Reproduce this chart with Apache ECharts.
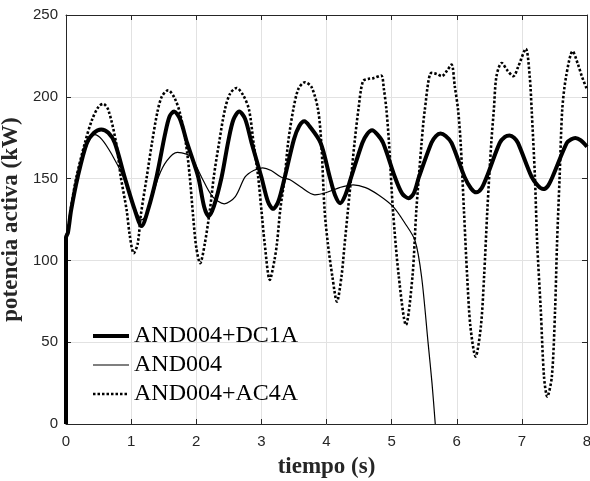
<!DOCTYPE html>
<html>
<head>
<meta charset="utf-8">
<script src="https://cdn.jsdelivr.net/npm/echarts@6/dist/echarts.min.js"></script>
<style>
html,body{margin:0;padding:0;background:#fff;}
#chart{width:590px;height:481px;}
</style>
</head>
<body>
<div id="chart"></div>
<script>
var seriesNames = ['AND004+DC1A', 'AND004', 'AND004+AC4A'];
var xTicks = [0,1,2,3,4,5,6,7,8];
var yTicks = [0,50,100,150,200,250];

var dc1aT = [0,0,0.03,0.08,0.18,0.32,0.43,0.54,0.65,0.75,0.90,1.055,1.16,1.26,1.39,1.52,1.59,1.66,1.75,1.86,2.03,2.12,2.19,2.27,2.39,2.49,2.57,2.66,2.75,2.85,3.0,3.10,3.18,3.26,3.36,3.50,3.58,3.66,3.74,3.91,4.05,4.13,4.21,4.29,4.38,4.55,4.62,4.70,4.78,4.87,5.05,5.16,5.26,5.34,5.42,5.61,5.68,5.75,5.83,5.92,6.12,6.22,6.30,6.38,6.46,6.66,6.74,6.81,6.88,6.94,7.15,7.25,7.33,7.40,7.47,7.69,7.76,7.82,7.90,8.0];
var dc1aV = [0,114,117,131,151,171.8,178,180,178,171.8,151,131,121,131,151,177,188,191,186.5,171.8,151,133,127,133,151,172.5,186,191,186.5,171.8,151,136,131.5,136,151,174,182,185,182,171.8,151,140,135,140,151,171.8,177,179.5,177,171.8,151,141,138,141,151,171.8,176,177.5,176,171.8,151,144,141.6,144,151,171.8,175.5,176.3,175,171.8,151,145.5,143.6,145.5,151,171.8,174,174.8,173.5,169.5];

var andT = [0,0,0.03,0.08,0.18,0.32,0.44,0.55,0.70,0.88,1.0,1.10,1.16,1.24,1.42,1.55,1.71,1.85,1.93,2.08,2.25,2.43,2.60,2.75,2.88,3.02,3.15,3.30,3.44,3.60,3.82,4.0,4.2,4.41,4.6,4.8,5.02,5.2,5.36,5.46,5.56,5.62,5.67];
var andV = [0,114,117,131,151,170,176.9,174,165,151,138,128,124.8,128,151,161,166,165,163,151,139,134.6,139,151,155,156.6,155,151,149.3,145,140.1,141.5,144.5,146.2,144.5,140,133,123,112,90,49.6,25,0];

var ac4aT = [0,0,0.03,0.08,0.16,0.29,0.40,0.50,0.57,0.65,0.77,0.84,0.93,0.98,1.04,1.10,1.15,1.24,1.32,1.40,1.47,1.57,1.67,1.75,1.84,1.90,1.95,2.00,2.06,2.13,2.21,2.27,2.35,2.44,2.52,2.62,2.72,2.81,2.88,2.95,3.0,3.05,3.13,3.20,3.24,3.29,3.36,3.41,3.49,3.57,3.67,3.77,3.87,3.92,3.97,4.02,4.09,4.16,4.23,4.28,4.33,4.38,4.43,4.49,4.56,4.65,4.72,4.84,4.88,4.92,4.96,5.02,5.11,5.22,5.32,5.38,5.46,5.51,5.61,5.69,5.77,5.85,5.92,5.97,6.02,6.06,6.11,6.16,6.21,6.29,6.37,6.42,6.47,6.53,6.57,6.61,6.69,6.78,6.87,6.94,7.06,7.12,7.15,7.20,7.235,7.29,7.34,7.39,7.46,7.51,7.54,7.58,7.62,7.68,7.78,7.86,7.92,8.0];
var ac4aV = [0,114,118,133,151,171.8,186,194,195.7,192,171.8,151.3,131,115,104.4,110,128,151,171.8,190,200,204,199,190,171.8,151.3,128,108,98.3,110,131,151.3,171.8,192.2,202,205.4,201,192.2,171.8,151.3,131,110.6,88.1,100,110.6,131,151.3,171.8,192.2,205,208.9,206,192.2,171.8,131,110.6,90.2,74.8,90.2,110.6,131,151.3,171.8,192.2,209.5,211,211.4,213,205,192.2,171.8,131,90.2,60.6,90.2,131,171.8,192.2,214.6,214,212.6,216,219.7,206.4,192.2,171.8,131,90.2,59.5,41.2,59.5,90.2,131,171.8,192.2,212.6,220.7,216,212.6,218,229.3,212.6,192.2,151.3,110.6,69.8,28.9,16.7,28.9,69.8,110.6,151.3,192.2,212.6,227.8,220,212.6,204.4];

function zip(t, v){ return t.map(function(x,i){ return [x, v[i]]; }); }

var axisColor = '#262626';
var gridColor = '#e2e2e2';
var tickFont = {fontFamily:'Liberation Sans, Arial, sans-serif', fontSize:15, color:axisColor};
var titleFont = {fontFamily:'Liberation Serif, serif', fontWeight:'bold', fontSize:23, color:axisColor};

var chart = echarts.init(document.getElementById('chart'), null, {renderer:'canvas'});
chart.setOption({
  backgroundColor:'#ffffff',
  animation:false,
  grid:{left:66, right:3, top:15, bottom:57, containLabel:false, outerBoundsMode:'none'},
  legend:{
    orient:'vertical', left:86, top:319,
    itemWidth:36, itemHeight:14, itemGap:5,
    itemStyle:{opacity:0},
    lineStyle:{width:'inherit', type:'inherit'},
    textStyle:{fontFamily:'Liberation Serif, serif', fontSize:24, color:'#000', lineHeight:24},
    data:seriesNames
  },
  xAxis:[{
    type:'value', min:xTicks[0], max:xTicks[xTicks.length-1], interval:1, position:'bottom',
    axisLine:{show:true, onZero:false, lineStyle:{color:axisColor, width:1}},
    axisTick:{show:true, inside:true, length:5, lineStyle:{color:axisColor}},
    axisLabel:Object.assign({margin:10}, tickFont),
    splitLine:{show:true, lineStyle:{color:gridColor, width:1}},
    name:'tiempo (s)', nameLocation:'middle', nameGap:32, nameTextStyle:titleFont
  },{
    type:'value', min:xTicks[0], max:xTicks[xTicks.length-1], interval:1, position:'top',
    axisLine:{show:true, onZero:false, lineStyle:{color:axisColor, width:1}},
    axisTick:{show:true, inside:true, length:5, lineStyle:{color:axisColor}},
    axisLabel:{show:false}, splitLine:{show:false}
  }],
  yAxis:[{
    type:'value', min:yTicks[0], max:yTicks[yTicks.length-1], interval:50, position:'left',
    axisLine:{show:true, onZero:false, lineStyle:{color:axisColor, width:1}},
    axisTick:{show:true, inside:true, length:5, lineStyle:{color:axisColor}},
    axisLabel:Object.assign({margin:8}, tickFont),
    splitLine:{show:true, lineStyle:{color:gridColor, width:1}},
    name:'potencia activa (kW)', nameLocation:'middle', nameGap:36, nameRotate:90, nameTextStyle:titleFont
  },{
    type:'value', min:yTicks[0], max:yTicks[yTicks.length-1], interval:50, position:'right',
    axisLine:{show:true, onZero:false, lineStyle:{color:axisColor, width:1}},
    axisTick:{show:true, inside:true, length:5, lineStyle:{color:axisColor}},
    axisLabel:{show:false}, splitLine:{show:false}
  }],
  series:[{
    name:seriesNames[0], type:'line', data:zip(dc1aT, dc1aV), symbol:'none', smooth:0.3,
    lineStyle:{color:'#000', width:4}, itemStyle:{color:'#000'}, z:4
  },{
    name:seriesNames[1], type:'line', data:zip(andT, andV), symbol:'none', smooth:0.3,
    lineStyle:{color:'#000', width:1.2}, itemStyle:{color:'#000'}, z:3
  },{
    name:seriesNames[2], type:'line', data:zip(ac4aT, ac4aV), symbol:'none', smooth:0.3,
    lineStyle:{color:'#000', width:2.6, type:[2.5,2]}, itemStyle:{color:'#000'}, z:2
  }]
});
</script>
</body>
</html>
